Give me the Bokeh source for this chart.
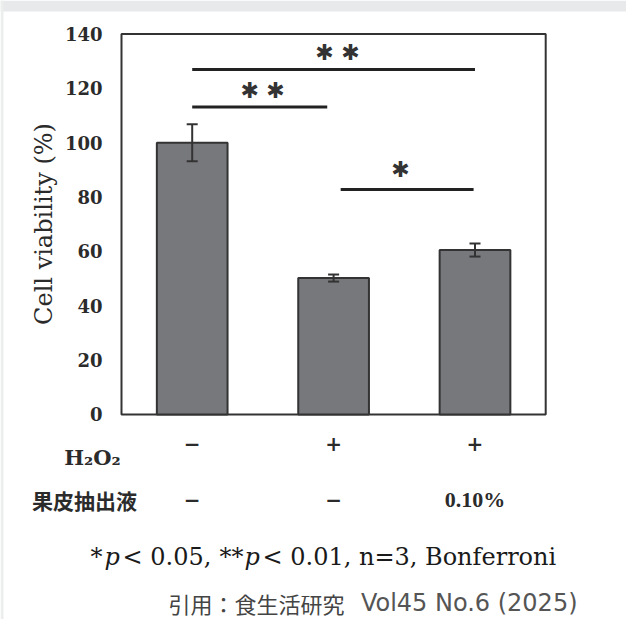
from bokeh.plotting import figure
from bokeh.models import Range1d, FixedTicker, LinearAxis, ColumnDataSource, Whisker, TeeHead
from bokeh.core.properties import value
from bokeh.embed import file_html
from bokeh.resources import INLINE

# ---- data ----
groups = ["control", "H2O2", "H2O2 + extract"]
x_pos = [1, 2, 3]
viability = [100.0, 50.2, 60.5]
sd = [6.8, 1.3, 2.4]
y_ticks = [0, 20, 40, 60, 80, 100, 120, 140]

row_labels = ["H₂O₂", "果皮抽出液"]
h2o2_row = ["−", "+", "+"]
extract_row = ["−", "−", "0.10%"]

sig_start = [1.0, 1.0, 2.05]
sig_end = [3.0, 1.955, 2.99]
sig_level = [126.9, 113.1, 82.8]
star_x = [1.936, 2.12, 1.407, 1.589, 2.473]
star_y = [133.3, 133.3, 119.2, 119.2, 90.0]

footnote = ["*", "p", "< 0.05,", "**", "p", "< 0.01, n=3, Bonferroni"]
footnote_italic = [False, True, False, False, True, False]
footnote_offsets = [0, 14, 32, 129, 154, 172]
citation_cjk = "引用：食生活研究"
citation_ref = "Vol45 No.6 (2025)"

# plot box (value ranges of the chart itself)
box_x = (0.5, 3.5)
box_y = (0, 140)
x_view = (-0.3557, 4.0714)
y_view = (-75.43, 152.32)

SERIF = "DejaVu Serif"
DARK = "#2b2b2b"

# whole canvas is the frame; ranges extended so the box sits where the reference has it
p = figure(width=626, height=619, x_range=Range1d(*x_view), y_range=Range1d(*y_view),
           x_axis_type=None, y_axis_type=None,
           output_backend="svg", toolbar_location=None,
           min_border_left=0, min_border_right=0, min_border_top=0, min_border_bottom=0)
p.background_fill_color = "white"
p.border_fill_color = "white"
p.outline_line_color = None
p.grid.visible = False

# page decoration: light gray strip along the top and left edge
p.quad(left=[x_view[0]], right=[x_view[1]], bottom=[148.3], top=[y_view[1]],
       fill_color="#e8e9eb", line_color=None)
p.quad(left=[x_view[0]], right=[-0.3345], bottom=[y_view[0]], top=[y_view[1]],
       fill_color="#eceded", line_color=None)

ya = LinearAxis(fixed_location=box_x[0], ticker=FixedTicker(ticks=y_ticks), bounds=box_y)
ya.axis_line_color = None
ya.major_tick_line_color = None
ya.minor_tick_line_color = None
ya.major_tick_out = 0
ya.major_tick_in = 0
ya.major_label_standoff = 19
ya.major_label_text_font = SERIF
ya.major_label_text_font_style = "bold"
ya.major_label_text_font_size = "18px"
ya.major_label_text_color = DARK
ya.axis_label = "Cell viability (%)"
ya.axis_label_text_font = SERIF
ya.axis_label_text_font_style = "normal"
ya.axis_label_text_font_size = "24px"
ya.axis_label_text_color = DARK
ya.axis_label_standoff = 4
p.add_layout(ya, "left")

# chart box
p.quad(left=[box_x[0]], right=[box_x[1]], bottom=[box_y[0]], top=[box_y[1]],
       fill_color=None, line_color="#333333", line_width=2)

src = ColumnDataSource(dict(
    x=x_pos, top=viability,
    upper=[m + s for m, s in zip(viability, sd)],
    lower=[m - s for m, s in zip(viability, sd)],
))
p.vbar(x="x", top="top", bottom=box_y[0], width=0.5, source=src, fill_color="#77787c",
       line_color="#333333", line_width=2)
p.add_layout(Whisker(base="x", upper="upper", lower="lower", source=src, dimension="height",
                     level="overlay", line_color="#333333", line_width=2,
                     upper_head=TeeHead(size=11, line_color="#333333", line_width=2),
                     lower_head=TeeHead(size=11, line_color="#333333", line_width=2)))

sig_src = ColumnDataSource(dict(x0=sig_start, x1=sig_end, y=sig_level))
p.segment(x0="x0", y0="y", x1="x1", y1="y", source=sig_src, line_color="#222222", line_width=3)
p.text(x=star_x, y=star_y, text=["✱"] * len(star_x), text_font=value("DejaVu Sans"),
       text_font_size="22px", text_color="#333333", text_align="center",
       text_baseline="middle")

# table rows below the chart
p.text(x=[0.2949], y=[-15.8], text=[row_labels[0]], text_font=value(SERIF),
       text_font_style="bold", text_font_size="21px", text_color=DARK,
       text_align="center", text_baseline="alphabetic")
p.text(x=[0.238], y=[-31.3], text=[row_labels[1]], text_font=value("Noto Sans CJK JP"),
       text_font_style="bold", text_font_size="21px", text_color=DARK,
       text_align="center", text_baseline="middle")
p.text(x=x_pos, y=[-10.67] * 3, text=h2o2_row, text_font=value(SERIF),
       text_font_style="bold", text_font_size="20px", text_color=DARK,
       text_align="center", text_baseline="middle")
p.text(x=x_pos[:2], y=[-31.3] * 2, text=extract_row[:2], text_font=value(SERIF),
       text_font_style="bold", text_font_size="20px", text_color=DARK,
       text_align="center", text_baseline="middle")
p.text(x=x_pos[2:], y=[-31.3], text=extract_row[2:], text_font=value("Liberation Serif"),
       text_font_style="bold", text_font_size="22px", text_color=DARK,
       text_align="center", text_baseline="middle")

# footnote
for t, ital, off in zip(footnote, footnote_italic, footnote_offsets):
    p.text(x=[0.2808], y=[-52.5], x_offset=off, text=[t], text_font=value(SERIF),
           text_font_style="italic" if ital else "normal",
           text_font_size="24px", text_color="#1a1a1a",
           text_align="left", text_baseline="alphabetic")

# citation
p.text(x=[0.8316], y=[-69.5], text=[citation_cjk], text_font=value("Noto Sans CJK JP"),
       text_font_size="22px", text_color="#444444", text_align="left",
       text_baseline="alphabetic")
p.text(x=[3.725], y=[-69.5], text=[citation_ref], text_font=value("DejaVu Sans"),
       text_font_size="24px", text_color="#555555", text_align="right",
       text_baseline="alphabetic")

open("out.html", "w").write(file_html(p, INLINE))
